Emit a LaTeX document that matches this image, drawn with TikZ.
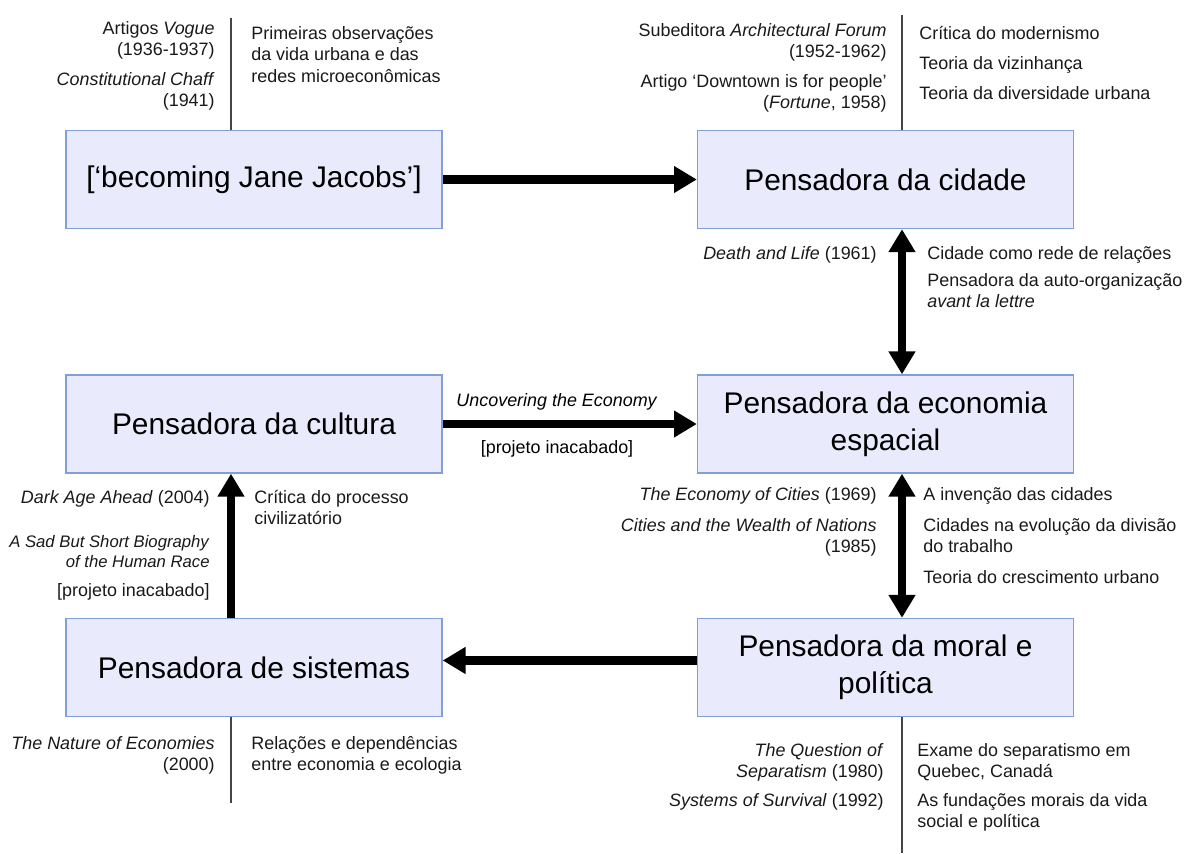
\documentclass[tikz,border=0pt]{standalone}
\usepackage{fontspec}
\setmainfont{Liberation Sans}
\usetikzlibrary{arrows.meta, positioning, calc}
\definecolor{boxfill}{RGB}{233,235,252}
\definecolor{boxline}{RGB}{126,160,214}
\definecolor{rulegray}{RGB}{70,70,70}
\definecolor{textdark}{RGB}{25,25,25}
\tikzset{
  thinker/.style={rectangle, draw=boxline, fill=boxfill,
    minimum width=7.52cm, minimum height=1.96cm, align=center,
    font=\fontsize{17}{21}\selectfont, line width=0.8pt},
  worknote/.style={anchor=north east, align=right, inner sep=0pt,
    font=\fontsize{10.2}{12.2}\selectfont, text=textdark},
  ideanote/.style={anchor=north west, align=left, inner sep=0pt,
    font=\fontsize{10.2}{12.2}\selectfont, text=textdark},
  bigarrow/.style={-{Triangle[length=13pt,width=14.5pt]}, line width=5pt},
  bothways/.style={{Triangle[length=13pt,width=14.5pt]}-{Triangle[length=13pt,width=14.5pt]}, line width=5pt},
  divider/.style={line width=0.7pt, color=rulegray}
}
\begin{document}
\begin{tikzpicture}[x=0.02cm, y=-0.02cm]
  \useasboundingbox (0,0) rectangle (1184,853);

  % Boxes
  \node[thinker] (becoming) at (254,179.5) {[‘becoming Jane Jacobs’]};
  \node[thinker] (cidade)   at (885.5,179.5) {Pensadora da cidade};
  \node[thinker] (cultura)  at (254,424) {Pensadora da cultura};
  \node[thinker] (economia) at (885.5,424) {Pensadora da economia\\espacial};
  \node[thinker] (sistemas) at (254,667.5) {Pensadora de sistemas};
  \node[thinker] (moral)    at (885.5,667.5) {Pensadora da moral e\\política};

  \coordinate (lspine) at (231,0);
  \coordinate (rspine) at (902,0);
  \coordinate (ltop) at (231,18);
  \coordinate (rtop) at (902,15);
  \coordinate (lbottom) at (231,803);
  \coordinate (rbottom) at (902,853);

  % Paths
  \draw[bigarrow] (becoming) -- (cidade);
  \draw[bothways] (cidade.south -| rspine) -- (economia.north -| rspine);
  \draw[bigarrow] (cultura) -- (economia)
    node[pos=0.45, above=5.5pt, inner sep=0pt, font=\fontsize{10.2}{12.2}\selectfont] {\textit{Uncovering the Economy}}
    node[pos=0.45, below=7pt, inner sep=0pt, font=\fontsize{10.2}{12.2}\selectfont] {[projeto inacabado]};
  \draw[bothways] (economia.south -| rspine) -- (moral.north -| rspine);
  \draw[bigarrow] ([yshift=4pt]moral.west) -- ([yshift=4pt]sistemas.east);
  \draw[bigarrow] (sistemas.north -| lspine) -- (cultura.south -| lspine);

  % Dividers
  \draw[divider] (becoming.north -| ltop) -- (ltop);
  \draw[divider] (cidade.north -| rtop) -- (rtop);
  \draw[divider] (sistemas.south -| lbottom) -- (lbottom);
  \draw[divider] (moral.south -| rbottom) -- (rbottom);

  % Notes: becoming
  \node[worknote] (vogue) at (215,21) {Artigos \textit{Vogue}\\(1936-1937)};
  \node[worknote] (chaff) at (215,72) {\textit{Constitutional Chaff}\\(1941)};
  \node[ideanote] (observ) at (251,26) {Primeiras observações\\da vida urbana e das\\redes microeconômicas};

  % Notes: cidade
  \node[worknote] (forum) at (887,23) {Subeditora \textit{Architectural Forum}\\(1952-1962)};
  \node[worknote] (downtown) at (887,74) {Artigo ‘Downtown is for people’\\(\textit{Fortune}, 1958)};
  \node[ideanote] (modern) at (919,26) {Crítica do modernismo};
  \node[ideanote] (vizinha) at (919,56) {Teoria da vizinhança};
  \node[ideanote] (divers) at (919,86) {Teoria da diversidade urbana};

  % Notes: death and life
  \node[worknote] (death) at (877,246) {\textit{Death and Life} (1961)};
  \node[ideanote] (rede) at (927,246) {Cidade como rede de relações};
  \node[ideanote] (autoorg) at (927,273) {Pensadora da auto-organização\\\textit{avant la lettre}};

  % Notes: economia
  \node[worknote] (ecocities) at (877,487) {\textit{The Economy of Cities} (1969)};
  \node[worknote] (wealth) at (877,518) {\textit{Cities and the Wealth of Nations}\\(1985)};
  \node[ideanote] (invencao) at (923,487) {A invenção das cidades};
  \node[ideanote] (divisao) at (923,518) {Cidades na evolução da divisão\\do trabalho};
  \node[ideanote] (cresc) at (923,570) {Teoria do crescimento urbano};

  % Notes: cultura
  \node[worknote] (darkage) at (210,490) {\textit{Dark Age Ahead} (2004)};
  \node[worknote, font=\fontsize{9.5}{11.2}\selectfont] (sadbio) at (210,535) {\textit{A Sad But Short Biography}\\\textit{of the Human Race}};
  \node[worknote] (inacab) at (210,583) {[projeto inacabado]};
  \node[ideanote] (civil) at (254,490) {Crítica do processo\\civilizatório};

  % Notes: sistemas
  \node[worknote] (nature) at (215,736) {\textit{The Nature of Economies}\\(2000)};
  \node[ideanote] (ecolog) at (251,736) {Relações e dependências\\entre economia e ecologia};

  % Notes: moral
  \node[worknote] (separ) at (884,743) {\textit{The Question of}\\\textit{Separatism} (1980)};
  \node[worknote] (surviv) at (884,793) {\textit{Systems of Survival} (1992)};
  \node[ideanote] (quebec) at (917,743) {Exame do separatismo em\\Quebec, Canadá};
  \node[ideanote] (fundac) at (917,793) {As fundações morais da vida\\social e política};
\end{tikzpicture}
\end{document}
